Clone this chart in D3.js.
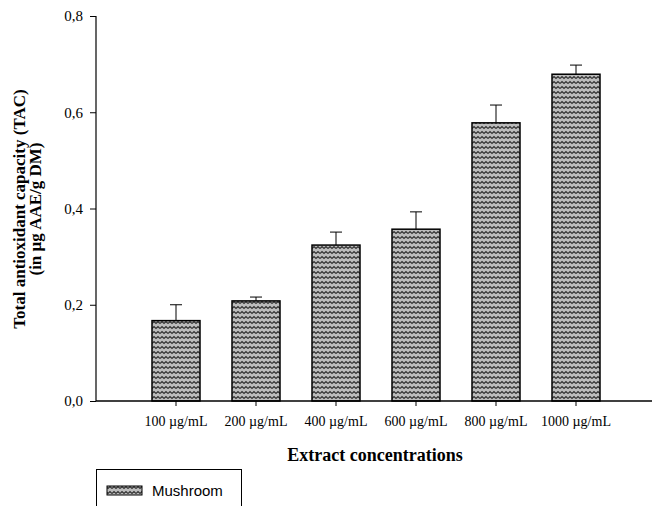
<!DOCTYPE html>
<html>
<head>
<meta charset="utf-8">
<script src="https://cdn.jsdelivr.net/npm/d3@7"></script>
<style>
  body { margin: 0; background: #fff; }
  svg { display: block; }
</style>
</head>
<body>
<div id="chart"></div>
<script>
var categories = ["100 \u00b5g/mL", "200 \u00b5g/mL", "400 \u00b5g/mL", "600 \u00b5g/mL", "800 \u00b5g/mL", "1000 \u00b5g/mL"];
var tacValues = [0.167, 0.208, 0.324, 0.357, 0.578, 0.679];
var tacErrors = [0.033, 0.008, 0.027, 0.036, 0.037, 0.019];
var yTicks = [0, 0.2, 0.4, 0.6, 0.8];
var seriesName = "Mushroom";

var width = 652, height = 506;
var axisLeft = 96, axisRight = 652;
var serif = "'Liberation Serif', 'Times New Roman', serif";

var svg = d3.select("#chart").append("svg")
    .attr("width", width)
    .attr("height", height);

// zigzag fill like the original plot
var defs = svg.append("defs");
var pat = defs.append("pattern")
    .attr("id", "zigzag")
    .attr("patternUnits", "userSpaceOnUse")
    .attr("width", 8)
    .attr("height", 5);
pat.append("rect").attr("width", 8).attr("height", 5).attr("fill", "#bdbdbd");
pat.append("path")
    .attr("d", "M0,3.5 L2,1.5 L4,3.5 L6,1.5 L8,3.5")
    .attr("fill", "none")
    .attr("stroke", "#333")
    .attr("stroke-width", 1.2);

var y = d3.scaleLinear()
    .domain([0, 0.8])
    .range([401, 16]);

var x = d3.scaleBand()
    .domain(categories)
    .range([136, 616])
    .paddingInner(0.4)
    .paddingOuter(0.2);

// bars
svg.append("g").selectAll("rect")
    .data(tacValues)
    .enter().append("rect")
    .attr("x", function(d, i) { return x(categories[i]); })
    .attr("y", function(d) { return y(d); })
    .attr("width", x.bandwidth())
    .attr("height", function(d) { return y(0) - y(d); })
    .attr("fill", "url(#zigzag)")
    .attr("stroke", "#000")
    .attr("stroke-width", 1.5);

// error bars (upper only)
var eb = svg.append("g").attr("stroke", "#000").attr("stroke-width", 1);
tacValues.forEach(function(v, i) {
    var cx = x(categories[i]) + x.bandwidth() / 2;
    eb.append("line")
        .attr("x1", cx).attr("x2", cx)
        .attr("y1", y(v)).attr("y2", y(v + tacErrors[i]));
    eb.append("line")
        .attr("x1", cx - 6).attr("x2", cx + 6)
        .attr("y1", y(v + tacErrors[i])).attr("y2", y(v + tacErrors[i]));
});

// y axis
var yAxis = svg.append("g")
    .attr("transform", "translate(" + axisLeft + ",0)")
    .call(d3.axisLeft(y)
        .tickValues(yTicks)
        .tickSize(6)
        .tickPadding(7)
        .tickFormat(function(d) { return d3.format(".1f")(d).replace(".", ","); }));
yAxis.select(".domain").attr("d", "M0,16V401").attr("stroke-width", 1.2);
yAxis.selectAll("text").style("font-family", serif).style("font-size", "15px").attr("fill", "#000");

// x axis
var xAxis = svg.append("g")
    .attr("transform", "translate(0,401)")
    .call(d3.axisBottom(x).tickSize(5).tickPadding(10));
xAxis.select(".domain").attr("d", "M" + axisLeft + ",0H" + axisRight).attr("stroke-width", 1.5);
xAxis.selectAll("text").style("font-family", serif).style("font-size", "14px").attr("fill", "#000");

// axis titles
svg.append("text")
    .attr("x", 375)
    .attr("y", 461)
    .attr("text-anchor", "middle")
    .style("font-family", serif)
    .style("font-size", "18px")
    .style("font-weight", "bold")
    .text("Extract concentrations");

var yt = svg.append("text")
    .attr("transform", "translate(25,209) rotate(-90)")
    .attr("text-anchor", "middle")
    .style("font-family", serif)
    .style("font-size", "17px")
    .style("font-weight", "bold");
yt.append("tspan").attr("x", 0).attr("dy", 0).text("Total antioxidant capacity (TAC)");
yt.append("tspan").attr("x", 0).attr("dy", 16).text("(in \u00b5g AAE/g DM)");

// legend
var lg = svg.append("g");
lg.append("rect")
    .attr("x", 96.5).attr("y", 469.5)
    .attr("width", 145).attr("height", 50)
    .attr("fill", "#fff")
    .attr("stroke", "#000")
    .attr("stroke-width", 1);
lg.append("rect")
    .attr("x", 107).attr("y", 486)
    .attr("width", 35).attr("height", 9)
    .attr("fill", "url(#zigzag)")
    .attr("stroke", "#000")
    .attr("stroke-width", 1);
lg.append("text")
    .attr("x", 152).attr("y", 496)
    .style("font-family", "'Liberation Sans', Arial, sans-serif")
    .style("font-size", "15px")
    .text(seriesName);
</script>
</body>
</html>
